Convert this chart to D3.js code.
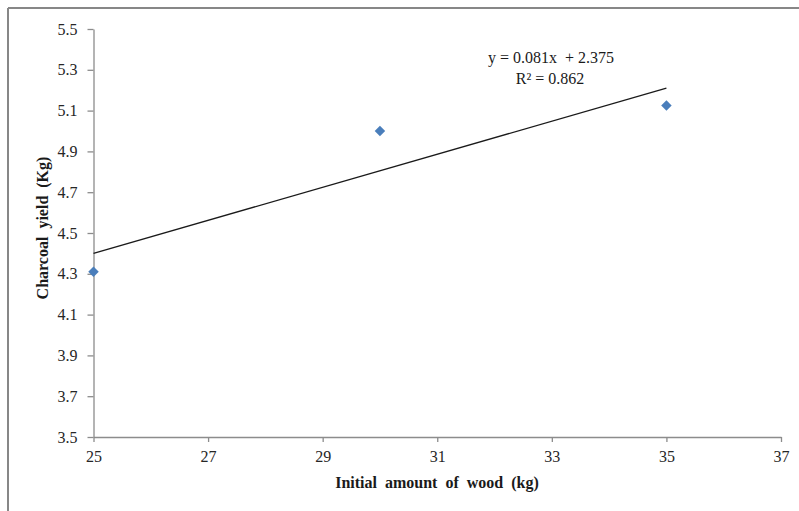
<!DOCTYPE html>
<html><head><meta charset="utf-8">
<script src="https://cdn.jsdelivr.net/npm/d3@7"></script>
<style>
html,body{margin:0;padding:0;background:#fff;}
svg{display:block;}
text{font-family:"Liberation Serif","Times New Roman",serif;}
</style></head>
<body>
<svg id="chart" width="799" height="511"></svg>
<script>
// Data
const woodKg = [25, 30, 35];
const charcoalKg = [4.31, 5.0, 5.125];
const trendSlope = 0.081;
const trendIntercept = 2.375;
const trendLabel = "y = 0.081x  + 2.375";
const r2Label = "R\u00b2 = 0.862";
const xTicks = [25, 27, 29, 31, 33, 35, 37];
const yTicks = [3.5, 3.7, 3.9, 4.1, 4.3, 4.5, 4.7, 4.9, 5.1, 5.3, 5.5];
const xTitle = "Initial  amount  of  wood  (kg)";
const yTitle = "Charcoal  yield  (Kg)";

(function () {
const svg = d3.select("#chart");
// outer frame (left and top edges visible)
svg.append("line").attr("x1", 8).attr("y1", 8).attr("x2", 799).attr("y2", 8)
  .attr("stroke", "#878787").attr("stroke-width", 2);
svg.append("line").attr("x1", 8).attr("y1", 8).attr("x2", 8).attr("y2", 511)
  .attr("stroke", "#878787").attr("stroke-width", 2);

const pL = 93.5, pR = 781, pT = 29, pB = 437;
const x = d3.scaleLinear().domain([25, 37]).range([pL, pR]);
const y = d3.scaleLinear().domain([3.5, 5.5]).range([pB, pT]);

const axisColor = "#8c8c8c";
const tickText = "#262626";
const fs = "16px";

const xAxis = svg.append("g").attr("transform", `translate(0,${pB})`)
  .call(d3.axisBottom(x).tickValues(xTicks).tickFormat(d3.format("d")).tickSize(5).tickPadding(9).tickSizeOuter(0));
const yAxis = svg.append("g").attr("transform", `translate(${pL},0)`)
  .call(d3.axisLeft(y).tickValues(yTicks).tickFormat(d3.format(".1f")).tickSize(6).tickPadding(10).tickSizeOuter(0));
[xAxis, yAxis].forEach(g => {
  g.selectAll("path,line").attr("stroke", axisColor).attr("stroke-width", 1.3);
  g.selectAll("text").attr("fill", tickText).style("font-size", fs)
    .style("font-family", '"Liberation Serif","Times New Roman",serif');
});

// trend line
const xr = d3.extent(woodKg);
svg.append("line")
  .attr("x1", x(xr[0])).attr("y1", y(trendSlope * xr[0] + trendIntercept))
  .attr("x2", x(xr[1])).attr("y2", y(trendSlope * xr[1] + trendIntercept))
  .attr("stroke", "#1a1a1a").attr("stroke-width", 1.3);

// points
const diamond = d3.symbol().type(d3.symbolDiamond2).size(70);
svg.selectAll("path.pt").data(woodKg).join("path").attr("class", "pt")
  .attr("d", diamond)
  .attr("transform", (d, i) => `translate(${x(d)},${y(charcoalKg[i])})`)
  .attr("fill", "#4a7ebb");

// equation labels
svg.append("text").attr("x", 551).attr("y", 63).attr("text-anchor", "middle")
  .style("white-space", "pre")
  .style("font-size", fs).attr("fill", "#1a1a1a").text(trendLabel);
svg.append("text").attr("x", 550).attr("y", 84).attr("text-anchor", "middle")
  .style("font-size", fs).attr("fill", "#1a1a1a").text(r2Label);

// axis titles
svg.append("text").attr("x", 437).attr("y", 488).attr("text-anchor", "middle")
  .style("white-space", "pre").style("font-size", fs).style("font-weight", "bold")
  .attr("fill", "#1a1a1a").text(xTitle);
svg.append("text").attr("transform", "translate(48,228) rotate(-90)").attr("text-anchor", "middle")
  .style("white-space", "pre").style("font-size", fs).style("font-weight", "bold")
  .attr("fill", "#1a1a1a").text(yTitle);
})();
</script>
</body></html>
